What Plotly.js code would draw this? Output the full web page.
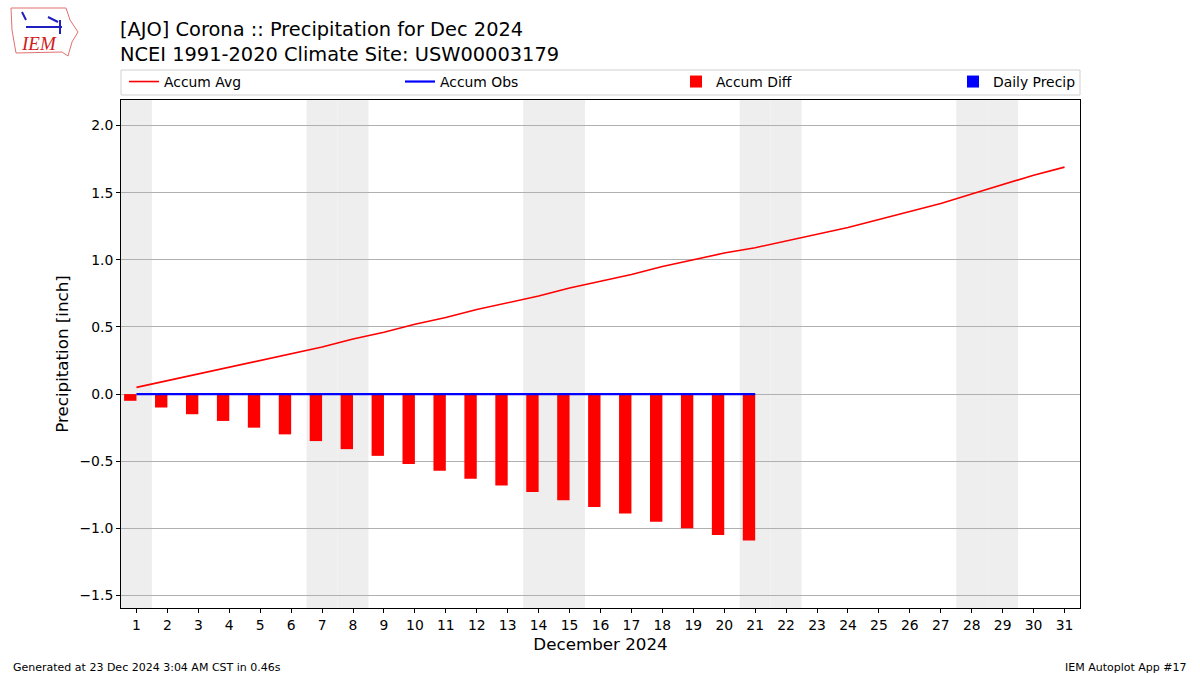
<!DOCTYPE html>
<html>
<head>
<meta charset="utf-8">
<script src="https://cdn.plot.ly/plotly-3.0.1.min.js"></script>
<style>html,body{margin:0;padding:0;background:#fff;}#chart{width:1200px;height:675px;}</style>
</head>
<body>
<div id="chart"></div>
<script>
// ---- Data ----
const year = 2024;
const monthIndex = 11; // December
const days = Array.from({length: 31}, (_, i) => i + 1);
const accumAvg = [0.05, 0.10, 0.15, 0.20, 0.25, 0.30, 0.35, 0.41, 0.46, 0.52,
                  0.57, 0.63, 0.68, 0.73, 0.79, 0.84, 0.89, 0.95, 1.00, 1.05,
                  1.09, 1.14, 1.19, 1.24, 1.30, 1.36, 1.42, 1.49, 1.56, 1.63, 1.69];
const obsDays = days.slice(0, 21);
const dailyPrecip = [0,0,0,0,0,0,0,0,0,0,0,0,0,0,0,0,0,0,0,0,0];
const accumObs = [0,0,0,0,0,0,0,0,0,0,0,0,0,0,0,0,0,0,0,0,0];
const accumDiff = accumObs.map((v, i) => +(v - accumAvg[i]).toFixed(2));
const yTicks = [-1.5, -1.0, -0.5, 0.0, 0.5, 1.0, 1.5, 2.0];
const yTickLabels = ['\u22121.5', '\u22121.0', '\u22120.5', '0.0', '0.5', '1.0', '1.5', '2.0'];

function px(x) { return (x - 121) / 959; }
function py(y) { return (608 - y) / 508; }

// weekend shading derived from the calendar
const shapes = [];
days.forEach(d => {
  const wd = new Date(year, monthIndex, d).getDay();
  if (wd === 0 || wd === 6) {
    shapes.push({type: 'rect', xref: 'x', yref: 'paper', x0: d - 0.5, x1: d + 0.5,
      y0: 0, y1: 1, fillcolor: '#eeeeee', line: {width: 0}, layer: 'below'});
  }
});
// legend frame
shapes.push({type: 'rect', xref: 'paper', yref: 'paper', x0: 0, x1: 1,
  y0: py(95), y1: py(70), line: {color: '#d0d0d0', width: 1}, fillcolor: 'rgba(255,255,255,0.8)'});
// logo outline (approximate)
shapes.push({type: 'path', xref: 'paper', yref: 'paper',
  path: 'M ' + px(11) + ' ' + py(8) + ' L ' + px(66) + ' ' + py(8) + ' L ' + px(70) + ' ' + py(20) +
        ' L ' + px(78) + ' ' + py(32) + ' L ' + px(72) + ' ' + py(42) + ' L ' + px(68) + ' ' + py(56) +
        ' L ' + px(62) + ' ' + py(52) + ' L ' + px(16) + ' ' + py(53) + ' L ' + px(12) + ' ' + py(30) + ' Z',
  line: {color: '#e07070', width: 1}});
shapes.push({type: 'path', xref: 'paper', yref: 'paper',
  path: 'M ' + px(26) + ' ' + py(27) + ' L ' + px(62) + ' ' + py(27) + ' M ' + px(48) + ' ' + py(17) +
        ' L ' + px(58) + ' ' + py(22) + ' M ' + px(60) + ' ' + py(20) + ' L ' + px(60) + ' ' + py(34) +
        ' M ' + px(22) + ' ' + py(12) + ' L ' + px(26) + ' ' + py(20),
  line: {color: '#2020c0', width: 2}});

const traces = [
  {type: 'scatter', mode: 'lines', name: 'Accum Avg', x: days, y: accumAvg,
   line: {color: '#ff0000', width: 1.6}, legend: 'legend'},
  {type: 'scatter', mode: 'lines', name: 'Accum Obs', x: obsDays, y: accumObs,
   line: {color: '#0000ff', width: 2.2}, legend: 'legend'},
  {type: 'bar', name: 'Accum Diff', x: obsDays, y: accumDiff, width: 0.4, offset: -0.4,
   marker: {color: '#ff0000', line: {width: 0}}, legend: 'legend'},
  {type: 'bar', name: 'Daily Precip', x: obsDays, y: dailyPrecip, width: 0.4, offset: 0,
   marker: {color: '#0000ff', line: {width: 0}}, legend: 'legend2'}
];

const legendFont = {size: 13.9, family: 'DejaVu Sans, sans-serif', color: '#000'};

const layout = {
  width: 1200, height: 675,
  margin: {l: 121, r: 120, t: 100, b: 67, pad: 0},
  paper_bgcolor: '#ffffff', plot_bgcolor: 'rgba(0,0,0,0)',
  font: {family: 'DejaVu Sans, sans-serif', color: '#000000', size: 14},
  barmode: 'overlay',
  showlegend: true,
  title: {
    text: '[AJO] Corona :: Precipitation for Dec 2024<br>NCEI 1991-2020 Climate Site: USW00003179',
    x: 120 / 1200, xanchor: 'left', xref: 'container',
    y: 1 - 36 / 675, yanchor: 'top', yref: 'container',
    font: {family: 'DejaVu Sans, sans-serif', size: 19.4, color: '#000'}
  },
  legend: {
    orientation: 'h', x: px(124), xanchor: 'left', y: py(66), yanchor: 'top',
    bgcolor: 'rgba(0,0,0,0)', borderwidth: 0,
    entrywidth: 231, entrywidthmode: 'pixels',
    font: legendFont, traceorder: 'normal', itemclick: false
  },
  legend2: {
    orientation: 'h', x: px(1081), xanchor: 'right', y: py(66), yanchor: 'top',
    bgcolor: 'rgba(0,0,0,0)', borderwidth: 0,
    font: legendFont, itemclick: false
  },
  xaxis: {
    range: [0.5, 31.5], tickmode: 'array', tickvals: days, ticktext: days.map(String),
    ticks: 'outside', ticklen: 4, tickcolor: '#000', showgrid: false, zeroline: false,
    showline: true, linecolor: '#000', linewidth: 1, mirror: true,
    tickfont: {size: 13.9},
    title: {text: 'December 2024', font: {size: 16.7}, standoff: 6}
  },
  yaxis: {
    range: [-1.593, 2.19], tickmode: 'array', tickvals: yTicks, ticktext: yTickLabels,
    ticks: 'outside', ticklen: 4, tickcolor: '#000',
    showgrid: true, gridcolor: '#b0b0b0', gridwidth: 1, zeroline: false,
    showline: true, linecolor: '#000', linewidth: 1, mirror: true,
    tickfont: {size: 13.9},
    title: {text: 'Precipitation [inch]', font: {size: 16.7}, standoff: 6}
  },
  shapes: shapes,
  annotations: [
    {text: 'Generated at 23 Dec 2024 3:04 AM CST in 0.46s', xref: 'paper', yref: 'paper',
     x: px(11), y: py(676), xanchor: 'left', yanchor: 'bottom', showarrow: false,
     font: {size: 11}},
    {text: 'IEM Autoplot App #17', xref: 'paper', yref: 'paper',
     x: px(1189), y: py(676), xanchor: 'right', yanchor: 'bottom', showarrow: false,
     font: {size: 11}},
    {text: '<i>IEM</i>', xref: 'paper', yref: 'paper', x: px(19), y: py(56),
     xanchor: 'left', yanchor: 'bottom', showarrow: false,
     font: {family: 'Liberation Serif, serif', size: 19, color: '#d02020'}}
  ]
};

Plotly.newPlot('chart', traces, layout, {displayModeBar: false, staticPlot: true});
</script>
</body>
</html>
